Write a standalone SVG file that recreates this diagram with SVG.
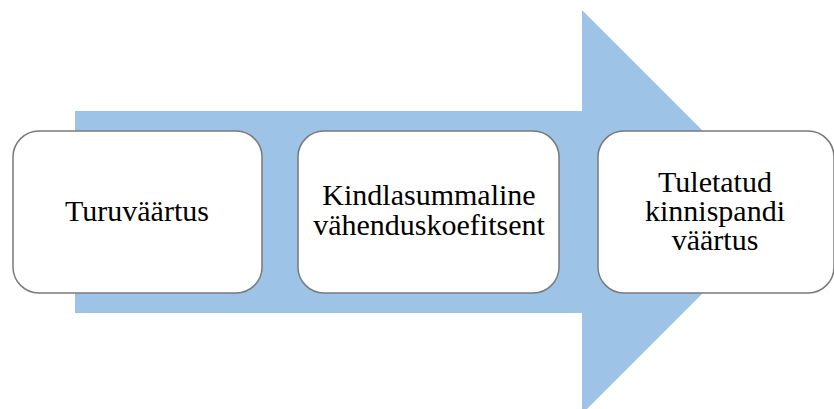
<svg xmlns="http://www.w3.org/2000/svg" width="834" height="409" viewBox="0 0 834 409">
<style>
.box{fill:#ffffff;stroke:#7a7a7a;stroke-width:1.5}
.t{font-family:"Liberation Serif","Times New Roman",serif;font-size:30px;fill:#000;text-anchor:middle}
</style>
<rect width="834" height="409" fill="#ffffff"/>
<g id="connectors">
<polygon points="75,111 582,111 582,10 784,212 582,414 582,313 75,313" fill="#9dc3e6"/>
</g>
<g id="node1">
<rect class="box" x="13" y="131" width="249" height="162" rx="26"/>
<text class="t" x="137" y="221">Turuväärtus</text>
</g>
<g id="node2">
<rect class="box" x="298" y="131" width="261" height="162" rx="26"/>
<text class="t" x="429" y="205">Kindlasummaline</text>
<text class="t" x="429" y="235">vähenduskoefitsent</text>
</g>
<g id="node3">
<rect class="box" x="598" y="131" width="236" height="162" rx="26"/>
<text class="t" x="715" y="192">Tuletatud</text>
<text class="t" x="715" y="221">kinnispandi</text>
<text class="t" x="715" y="250">väärtus</text>
</g>
</svg>
